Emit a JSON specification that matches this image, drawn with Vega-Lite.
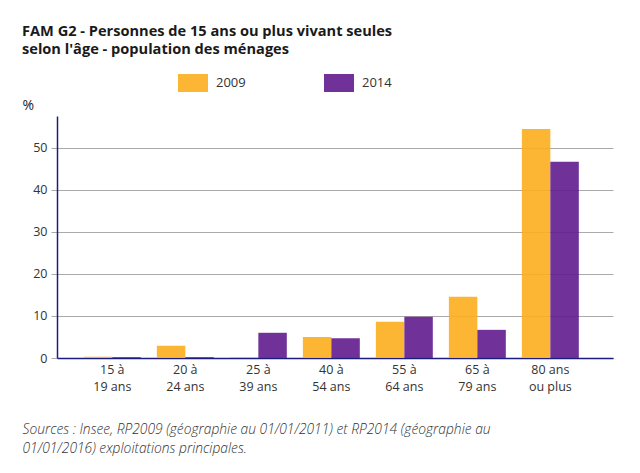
{
  "$schema": "https://vega.github.io/schema/vega-lite/v6.json",
  "autosize": "none",
  "width": 556,
  "height": 242,
  "padding": {"left": 57, "top": 116, "right": 27, "bottom": 115},
  "background": "white",
  "config": {
    "font": "Open Sans",
    "view": {"stroke": null}
  },
  "title": {
    "text": ["FAM G2 - Personnes de 15 ans ou plus vivant seules", "selon l'âge - population des ménages"],
    "anchor": "start",
    "frame": "group",
    "orient": "top",
    "dx": -35,
    "offset": 11,
    "fontSize": 14.6,
    "fontWeight": "bold",
    "font": "Open Sans",
    "color": "#1a1a1a",
    "lineHeight": 18
  },
  "data": {
    "values": [
      {"age": "15 à|19 ans", "annee": "2009", "pct": 0.3},
      {"age": "15 à|19 ans", "annee": "2014", "pct": 0.2},
      {"age": "20 à|24 ans", "annee": "2009", "pct": 2.9},
      {"age": "20 à|24 ans", "annee": "2014", "pct": 0.2},
      {"age": "25 à|39 ans", "annee": "2009", "pct": 0.2},
      {"age": "25 à|39 ans", "annee": "2014", "pct": 6.0},
      {"age": "40 à|54 ans", "annee": "2009", "pct": 5.0},
      {"age": "40 à|54 ans", "annee": "2014", "pct": 4.7},
      {"age": "55 à|64 ans", "annee": "2009", "pct": 8.6},
      {"age": "55 à|64 ans", "annee": "2014", "pct": 9.8},
      {"age": "65 à|79 ans", "annee": "2009", "pct": 14.6},
      {"age": "65 à|79 ans", "annee": "2014", "pct": 6.7},
      {"age": "80 ans|ou plus", "annee": "2009", "pct": 54.5},
      {"age": "80 ans|ou plus", "annee": "2014", "pct": 46.7}
    ]
  },
  "mark": {"type": "bar", "opacity": 0.9},
  "encoding": {
    "x": {
      "field": "age",
      "type": "nominal",
      "sort": null,
      "scale": {"paddingInner": 0.22, "paddingOuter": 0.418, "align": 0.44},
      "axis": {
        "title": ["Sources : Insee, RP2009 (géographie au 01/01/2011) et RP2014 (géographie au", "01/01/2016) exploitations principales."],
        "titleX": -35,
        "titleY": 75,
        "titleAlign": "left",
        "titleAnchor": null,
        "titleBaseline": "alphabetic",
        "titleFontStyle": "italic",
        "titleFontWeight": 300,
        "titleFontSize": 13.8,
        "titleColor": "#333333",
        "titleLineHeight": 19,
        "titleFont": "Open Sans",
        "labelAngle": 0,
        "labelExpr": "split(datum.label, '|')",
        "labelFontSize": 12.5,
        "labelColor": "#333333",
        "labelLineHeight": 17,
        "labelPadding": 5,
        "labelFont": "Open Sans",
        "ticks": false,
        "domainColor": "#1c1c7c",
        "domainWidth": 1.5
      }
    },
    "xOffset": {"field": "annee", "type": "nominal"},
    "y": {
      "field": "pct",
      "type": "quantitative",
      "scale": {"domain": [0, 57.6], "nice": false},
      "axis": {
        "values": [0, 10, 20, 30, 40, 50],
        "title": "%",
        "titleAngle": 0,
        "titleX": -35,
        "titleY": -7,
        "titleAlign": "left",
        "titleBaseline": "alphabetic",
        "titleFontSize": 14,
        "titleFontWeight": "normal",
        "titleColor": "#222222",
        "titleFont": "Open Sans",
        "labelFontSize": 12.5,
        "labelColor": "#333333",
        "labelPadding": 4,
        "labelFont": "Open Sans",
        "tickColor": "#aaaaaa",
        "tickSize": 6,
        "domainColor": "#1c1c7c",
        "domainWidth": 1.5,
        "gridColor": "#aaaaaa",
        "gridWidth": 1
      }
    },
    "color": {
      "field": "annee",
      "type": "nominal",
      "scale": {"domain": ["2009", "2014"], "range": ["#FDAD1E", "#601C8E"]},
      "legend": {
        "title": null,
        "orient": "none",
        "legendX": 121,
        "legendY": -48,
        "direction": "horizontal",
        "symbolType": "M-1,-0.6H1V0.6H-1Z",
        "symbolSize": 900,
        "symbolStrokeWidth": 0,
        "symbolOpacity": 0.9,
        "labelFontSize": 13,
        "labelColor": "#333333",
        "labelOffset": 8,
        "labelFont": "Open Sans",
        "columnPadding": 78
      }
    }
  }
}
